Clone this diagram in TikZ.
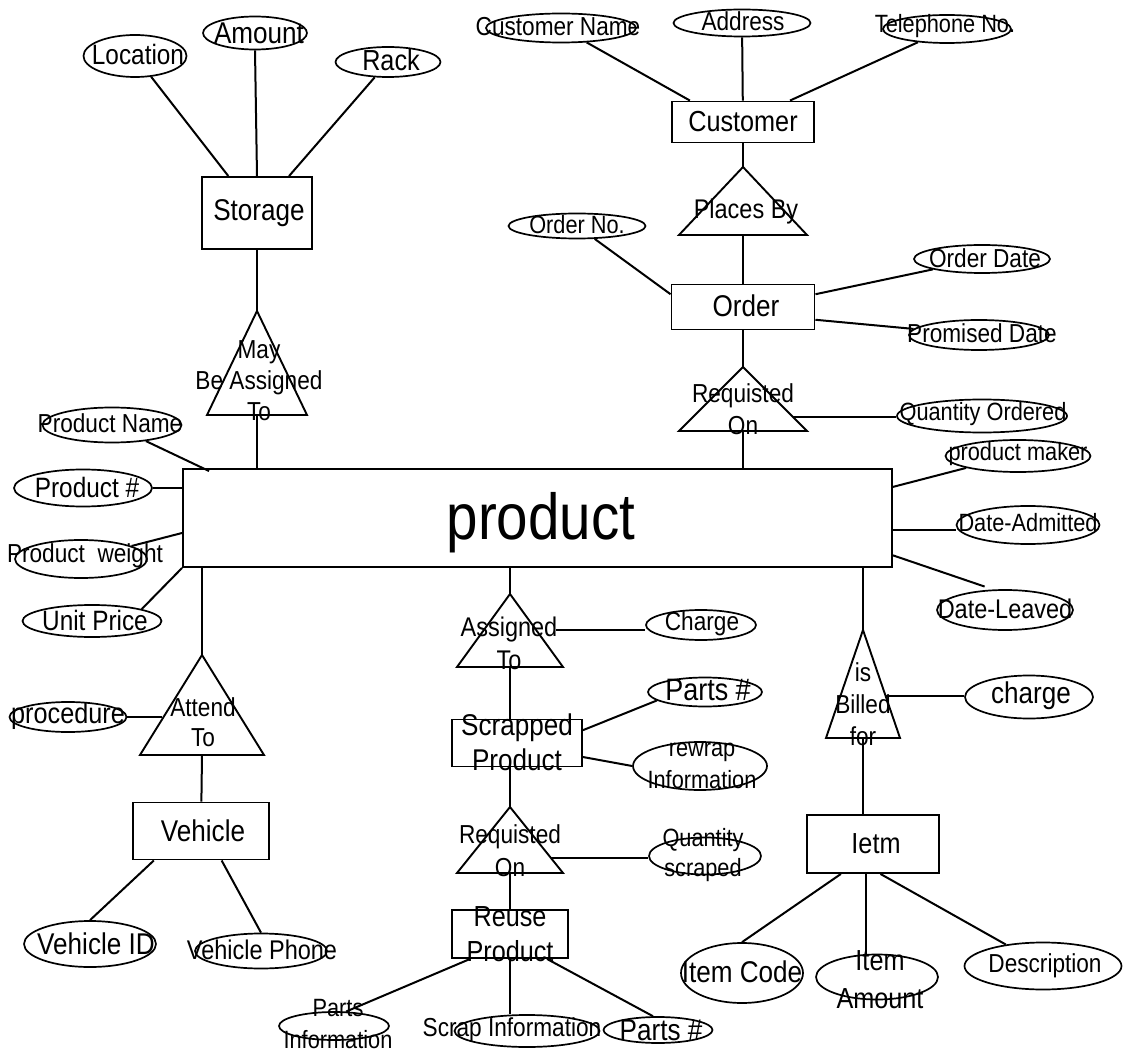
\documentclass[tikz,border=0pt]{standalone}
\usepackage{fontspec}
\setmainfont{Liberation Sans}[FakeStretch=0.87]
\usetikzlibrary{shapes.geometric}

% relationship triangle: name, apex x, apex y, base y, half width
\newcommand\reltri[5]{%
  \coordinate (#1-top) at (#2,#3);
  \coordinate (#1-base) at (#2,#4);
  \coordinate (#1-l) at ({#2-#5},#4);
  \coordinate (#1-r) at ({#2+#5},#4);
  \draw[rel] (#1-top) -- (#1-l) -- (#1-r) -- cycle;}

\begin{document}
\begin{tikzpicture}[x=1pt,y=-1pt,
  ent/.style={draw,rectangle,line width=1.9pt,inner sep=0pt},
  att/.style={draw,ellipse,line width=1.7pt,inner sep=0pt},
  lbl/.style={inner sep=0pt,align=center},
  fs/.style 2 args={font=\fontsize{#1}{#2}\selectfont},
  conn/.style={line width=2pt},
  rel/.style={line width=1.9pt,line join=miter}]

\fill[white] (0,0) rectangle (1130,1056);
\useasboundingbox (0,0) rectangle (1130,1056);

% ---------- entities ----------
\node[ent,minimum width=110,minimum height=72] (storage)  at (257,213) {};
\node[ent,minimum width=142,minimum height=41] (customer) at (743,122) {};
\node[ent,minimum width=143,minimum height=45] (order)    at (743,307) {};
\node[ent,minimum width=709,minimum height=98] (product)  at (537.5,518) {};
\node[ent,minimum width=136,minimum height=57] (vehicle)  at (201,831) {};
\node[ent,minimum width=130,minimum height=47] (scrapped) at (517,743) {};
\node[ent,minimum width=116,minimum height=48] (reuse)    at (510,934) {};
\node[ent,minimum width=132,minimum height=58] (item)     at (873,844) {};

% ---------- attributes ----------
\node[att,minimum width=103,minimum height=42] (location)  at (135,56) {};
\node[att,minimum width=104,minimum height=33] (amount)    at (255,33) {};
\node[att,minimum width=105,minimum height=30] (rack)      at (388,62) {};
\node[att,minimum width=150,minimum height=29] (custname)  at (561,28) {};
\node[att,minimum width=137,minimum height=27] (address)   at (742,23) {};
\node[att,minimum width=128,minimum height=28] (telephone) at (947,29) {};
\node[att,minimum width=137,minimum height=25] (orderno)   at (577,226) {};
\node[att,minimum width=136,minimum height=28] (orderdate) at (982,259) {};
\node[att,minimum width=140,minimum height=30] (promised)  at (979,335) {};
\node[att,minimum width=170,minimum height=33] (qtyord)    at (982,416) {};
\node[att,minimum width=145,minimum height=32] (pmaker)    at (1018,456) {};
\node[att,minimum width=143,minimum height=38] (dadmit)    at (1028,525) {};
\node[att,minimum width=136,minimum height=40] (dleave)    at (1005,610) {};
\node[att,minimum width=139,minimum height=35] (pname)     at (112,425) {};
\node[att,minimum width=138,minimum height=37] (pnum)      at (83,488) {};
\node[att,minimum width=132,minimum height=38] (pweight)   at (81,559) {};
\node[att,minimum width=139,minimum height=32] (uprice)    at (92,621) {};
\node[att,minimum width=117,minimum height=30] (procedure) at (68,717) {};
\node[att,minimum width=132,minimum height=46] (vehid)     at (90,944) {};
\node[att,minimum width=132,minimum height=35] (vehphone)  at (261,951) {};
\node[att,minimum width=110,minimum height=30] (charge1)   at (701,625) {};
\node[att,minimum width=114,minimum height=29] (partsno1)  at (705,692) {};
\node[att,minimum width=134,minimum height=48] (rewrap)    at (700,766) {};
\node[att,minimum width=112,minimum height=37] (qtyscr)    at (705,856) {};
\node[att,minimum width=128,minimum height=43] (charge2)   at (1029,697) {};
\node[att,minimum width=110,minimum height=28] (partsinfo) at (334,1026) {};
\node[att,minimum width=145,minimum height=32] (scrapinfo) at (527,1031) {};
\node[att,minimum width=109,minimum height=26] (partsno2)  at (658,1030) {};
\node[att,minimum width=122,minimum height=60] (itemcode)  at (742,973) {};
\node[att,minimum width=122,minimum height=45] (itemamt)   at (877,977) {};
\node[att,minimum width=157,minimum height=47] (descr)     at (1043,966) {};

% ---------- relationships ----------
\reltri{may}{257}{311}{415}{50}
\reltri{pb}{743}{167}{235}{64}
\reltri{rq1}{743}{367}{431}{64}
\reltri{at}{202}{655}{755}{62}
\reltri{as}{510}{594}{667}{53}
\reltri{bl}{863}{630}{738}{37}
\reltri{rq2}{510}{807}{873}{53}

% points on the triangle sides where attribute lines start
\coordinate (rq1-e) at (793,417);
\coordinate (at-w)  at (162,720);
\coordinate (as-e)  at (556,630);
\coordinate (bl-e)  at (886,696);
\coordinate (rq2-e) at (551,858);
\coordinate (pd-e)  at (product.-2.4);
\coordinate (it-s)  at ([xshift=-7pt]item.south);

% ---------- connectors ----------
\draw[conn] (location) -- (storage);
\draw[conn] (amount.south) -- (storage.north);
\draw[conn] (rack) -- (storage);
\draw[conn] (storage) -- (may-top);
\draw[conn] (may-base) -- (may-base |- product.north);

\draw[conn] (custname) -- (customer.158.6);
\draw[conn] (address) -- (customer);
\draw[conn] (telephone) -- (customer);
\draw[conn] (customer) -- (pb-top);
\draw[conn] (pb-base) -- (order);
\draw[conn] (orderno) -- (order.170);
\draw[conn] (order.10) -- (orderdate);
\draw[conn] (order.-10) -- (promised);
\draw[conn] (order) -- (rq1-top);
\draw[conn] (rq1-e) -- (rq1-e -| qtyord.west);
\draw[conn] (rq1-base) -- (rq1-base |- product.north);

\draw[conn] (product.5) -- (pmaker.south west);
\draw[conn] (pd-e) -- (pd-e -| dadmit.west);
\draw[conn,shorten >=9pt] (product.-6.3) -- (dleave.120);

\draw[conn] (pname) -- ([xshift=27pt,yshift=-3pt]product.north west);
\draw[conn] (pnum) -- (pnum -| product.west);
\draw[conn] (pweight) -- ([yshift=-15pt]product.west);
\draw[conn] (uprice.north east) -- (product.south west);

\draw[conn] (at-top |- product.south) -- (at-top);
\draw[conn] (procedure) -- (procedure -| at-w);
\draw[conn] (at-base) -- (vehicle);
\draw[conn] (vehicle.212) -- (vehid.north);
\draw[conn] (vehicle.-55) -- (vehphone.north);

\draw[conn] (as-top |- product.south) -- (as-top);
\draw[conn] (as-e) -- (as-e -| charge1.west);
\draw[conn] (as-base) -- (as-base |- scrapped.north);
\draw[conn] (scrapped.11) -- (partsno1.190);
\draw[conn] (scrapped.-12) -- (rewrap.west);
\draw[conn] (rq2-top |- scrapped.south) -- (rq2-top);
\draw[conn] (rq2-e) -- (rq2-e -| qtyscr.west);
\draw[conn] (rq2-base) -- (rq2-base |- reuse.north);
\draw[conn] (reuse.212) -- (partsinfo.50);
\draw[conn] (rq2-base |- reuse.south) -- (rq2-base |- scrapinfo.north);
\draw[conn] (reuse.-34.4) -- (partsno2.110);

\draw[conn] (bl-top |- product.south) -- (bl-top);
\draw[conn] (bl-e) -- (bl-e -| charge2.west);
\draw[conn] (bl-base) -- (bl-base |- item.north);
\draw[conn] (item.223) -- (itemcode.north);
\draw[conn] (it-s) -- (it-s |- itemamt.north);
\draw[conn] (item.-76.4) -- (descr.150);

% ---------- texts ----------
\node[lbl,fs={30}{36}] (storage-t)  at (259,213) {Storage};
\node[lbl,fs={29}{35}] (customer-t) at (743,122) {Customer};
\node[lbl,fs={30}{36}] (order-t)    at (746,306) {Order};
\node[lbl,fs={65}{78}] (product-t)  at (541,523) {product};
\node[lbl,fs={30}{36}] (vehicle-t)  at (203,831) {Vehicle};
\node[lbl,fs={30}{35}] (scrapped-t) at (517,742) {Scrapped\\Product};
\node[lbl,fs={29}{35}] (reuse-t)    at (510,934) {Reuse\\Product};
\node[lbl,fs={29}{35}] (item-t)     at (876,844) {Ietm};

\node[lbl,fs={28}{34}] (location-t)  at (138,54) {Location};
\node[lbl,fs={30}{36}] (amount-t)    at (259,33) {Amount};
\node[lbl,fs={29}{35}] (rack-t)      at (391,60) {Rack};
\node[lbl,fs={26}{31}] (custname-t)  at (558,27) {Customer Name};
\node[lbl,fs={26}{31}] (address-t)   at (743,21) {Address};
\node[lbl,fs={25}{30}] (telephone-t) at (945,26) {Telephone No.};
\node[lbl,fs={25}{30}] (orderno-t)   at (577,225) {Order No.};
\node[lbl,fs={26}{31}] (orderdate-t) at (985,258) {Order Date};
\node[lbl,fs={26}{31}] (promised-t)  at (982,333) {Promised Date};
\node[lbl,fs={25}{30}] (qtyord-t)    at (983,414) {Quantity Ordered};
\node[lbl,fs={25}{30}] (pmaker-t)    at (1018,454) {product maker};
\node[lbl,fs={25}{30}] (dadmit-t)    at (1028,523) {Date-Admitted};
\node[lbl,fs={27}{32}] (dleave-t)    at (1005,609) {Date-Leaved};
\node[lbl,fs={26}{31}] (pname-t)     at (110,423) {Product Name};
\node[lbl,fs={28}{34}] (pnum-t)      at (87,487) {Product \#};
\node[lbl,fs={26}{31}] (pweight-t)   at (85,556) {Product~ weight};
\node[lbl,fs={28}{34}] (uprice-t)    at (95,620) {Unit Price};
\node[lbl,fs={29}{35}] (procedure-t) at (68,716) {procedure};
\node[lbl,fs={30}{36}] (vehid-t)     at (96,944) {Vehicle ID};
\node[lbl,fs={27}{32}] (vehphone-t)  at (262,950) {Vehicle Phone};
\node[lbl,fs={26}{31}] (charge1-t)   at (702,624) {Charge};
\node[lbl,fs={31}{37}] (partsno1-t)  at (708,690) {Parts \#};
\node[lbl,fs={25}{32}] (rewrap-t)    at (702,766) {rewrap\\Information};
\node[lbl,fs={25}{30}] (qtyscr-t)    at (703,855) {Quantity\\scraped};
\node[lbl,fs={30}{36}] (charge2-t)   at (1031,696) {charge};
\node[lbl,fs={25}{32}] (partsinfo-t) at (338,1024) {Parts\\Information};
\node[lbl,fs={26}{31}] (scrapinfo-t) at (512,1030) {Scrap Information};
\node[lbl,fs={30}{36}] (partsno2-t)  at (661,1030) {Parts \#};
\node[lbl,fs={30}{36}] (itemcode-t)  at (742,972) {Item Code};
\node[lbl,fs={29}{38}] (itemamt-t)   at (880,980) {Item\\Amount};
\node[lbl,fs={26}{31}] (descr-t)     at (1045,966) {Description};

\node[lbl,fs={26}{31}] (may-t) at (259,381) {May\\Be Assigned\\To};
\node[lbl,fs={27}{32}] (pb-t)  at (746,212) {Places By};
\node[lbl,fs={26}{32}] (rq1-t) at (743,409) {Requisted\\On};
\node[lbl,fs={26}{30}] (at-t)  at (203,722) {Attend\\To};
\node[lbl,fs={27}{33}] (as-t)  at (509,643) {Assigned\\To};
\node[lbl,fs={26}{32}] (bl-t)  at (863,704) {is\\Billed\\for};
\node[lbl,fs={26}{33}] (rq2-t) at (510,851) {Requisted\\On};

\end{tikzpicture}
\end{document}
